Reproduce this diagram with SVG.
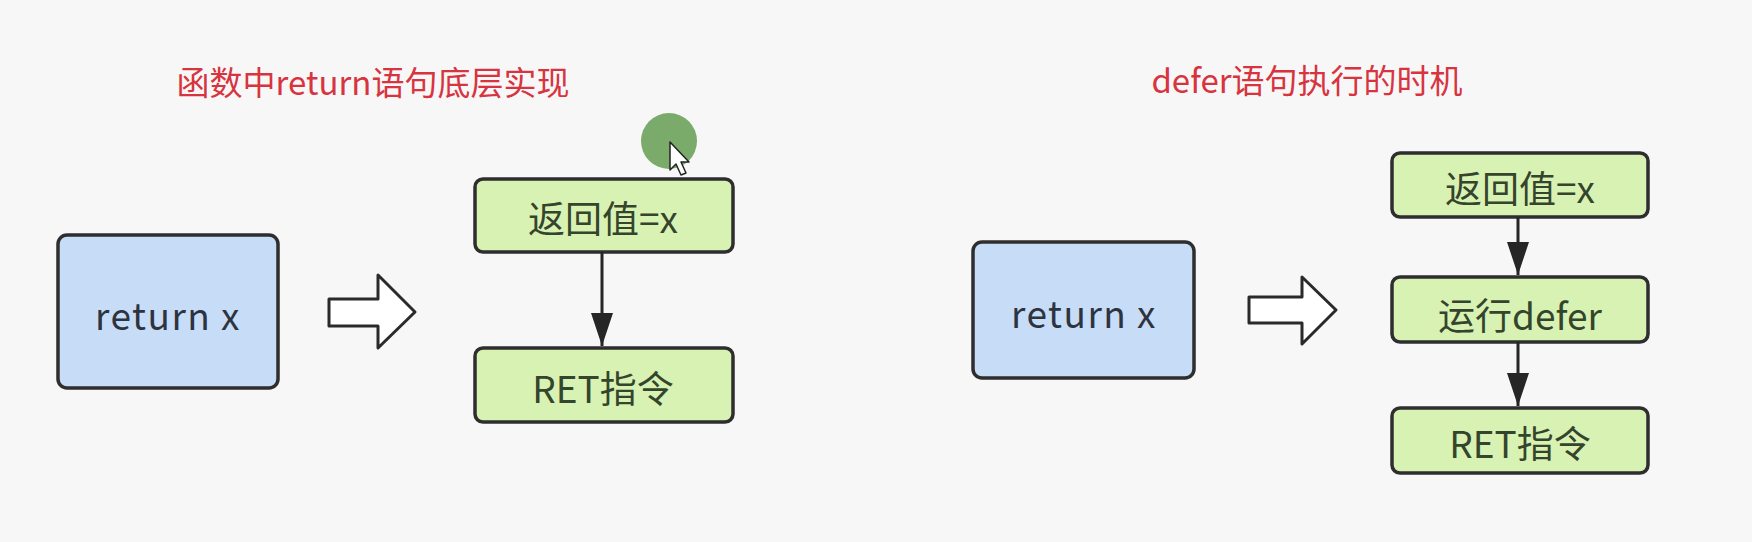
<svg xmlns="http://www.w3.org/2000/svg" width="1752" height="542" viewBox="0 0 1752 542">
<defs>
<style>
.bg{fill:#f7f7f7}
.title{font-family:"Noto Sans CJK SC","Noto Sans",sans-serif;font-size:33px;fill:#d8343f;text-anchor:middle;font-weight:400}
.blue{fill:#c7dcf6;stroke:#2e2e2e;stroke-width:3.5}
.green{fill:#d8f2b4;stroke:#2e2e2e;stroke-width:3.5}
.lbl{font-family:"Noto Sans CJK SC","Noto Sans",sans-serif;font-size:37px;text-anchor:middle;font-weight:400}
.lb{fill:#2d3440;letter-spacing:1.5px}
.lg{fill:#34452c}
.hollow{fill:#ffffff;stroke:#2a2a2a;stroke-width:3;stroke-linejoin:round}
.conn{stroke:#262626;stroke-width:3;fill:none}
</style>
<marker id="ah" viewBox="0 0 33 22" refX="33" refY="11" markerWidth="33" markerHeight="22" markerUnits="userSpaceOnUse" orient="auto">
<path d="M0,0 L33,11 L0,22 Z" fill="#262626"/>
</marker>
</defs>
<rect class="bg" x="0" y="0" width="1752" height="542"/>

<text class="title" x="373" y="95">函数中return语句底层实现</text>
<text class="title" x="1307" y="93">defer语句执行的时机</text>

<g id="left-return">
<rect class="blue" x="58" y="235" width="220" height="153" rx="9"/>
<text class="lbl lb" x="168" y="330">return x</text>
</g>
<g id="left-hollow-arrow">
<path class="hollow" d="M329,299 L378,299 L378,275 L415,312 L378,348 L378,326 L329,326 Z"/>
</g>
<g id="left-retval">
<rect class="green" x="475" y="179" width="258" height="73" rx="8"/>
<text class="lbl lg" x="603" y="233">返回值=x</text>
</g>
<g id="left-ret">
<rect class="green" x="475" y="348" width="258" height="74" rx="8"/>
<text class="lbl lg" x="603" y="403">RET指令</text>
</g>

<g id="right-return">
<rect class="blue" x="973" y="242" width="221" height="136" rx="9"/>
<text class="lbl lb" x="1084" y="328">return x</text>
</g>
<g id="right-hollow-arrow">
<path class="hollow" d="M1249,297 L1302,297 L1302,277 L1336,310 L1302,344 L1302,323 L1249,323 Z"/>
</g>
<g id="right-retval">
<rect class="green" x="1392" y="153" width="256" height="64" rx="8"/>
<text class="lbl lg" x="1520" y="203">返回值=x</text>
</g>
<g id="right-defer">
<rect class="green" x="1392" y="277" width="256" height="65" rx="8"/>
<text class="lbl lg" x="1520" y="330">运行defer</text>
</g>
<g id="right-ret">
<rect class="green" x="1392" y="408" width="256" height="65" rx="8"/>
<text class="lbl lg" x="1520" y="458">RET指令</text>
</g>

<g id="connectors">
<line class="conn" x1="602" y1="252" x2="602" y2="346" marker-end="url(#ah)"/>
<line class="conn" x1="1518" y1="217" x2="1518" y2="275" marker-end="url(#ah)"/>
<line class="conn" x1="1518" y1="342" x2="1518" y2="406" marker-end="url(#ah)"/>
</g>

<g id="cursor">
<circle cx="669" cy="141" r="28" fill="#7aab6a"/>
<path d="M670,142 L670,170 L676,164 L681,175 L686,173 L681,162 L689,162 Z" fill="#ffffff" stroke="#222" stroke-width="1.5" stroke-linejoin="round"/>
</g>
</svg>
